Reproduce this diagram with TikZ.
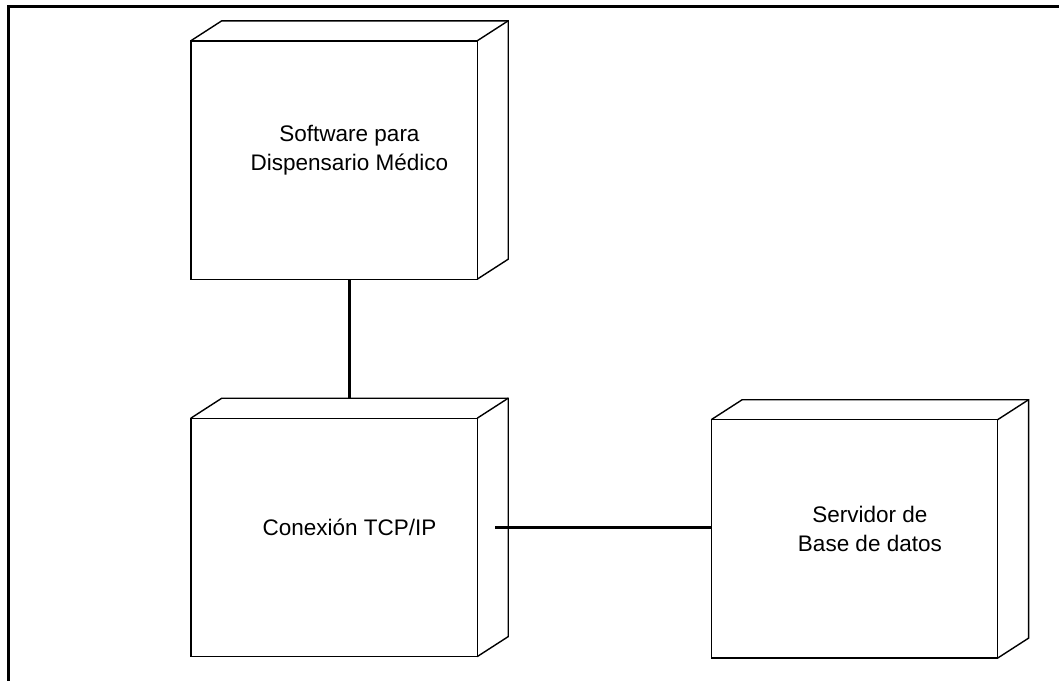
\documentclass[tikz,border=0pt]{standalone}
\usepackage{fontspec}
\setmainfont{Liberation Sans}
\usetikzlibrary{positioning}
\newcommand{\nodebody}[1]{%
\draw[boxline] ([yshift=-20pt]#1.north west) rectangle ([xshift=-31pt]#1.south east);
\draw[boxline] ([yshift=-20pt]#1.north west) -- ([xshift=31pt]#1.north west) -- (#1.north east) -- ([yshift=20pt]#1.south east) -- ([xshift=-31pt]#1.south east);
\draw[boxline] ([xshift=-31pt,yshift=-20pt]#1.north east) -- (#1.north east);
}
\begin{document}
\begin{tikzpicture}[x=1pt, y=-1pt,
  umlnode/.style={minimum width=317pt, minimum height=258pt, inner sep=0pt, align=center, font=\fontsize{22.5}{29}\selectfont},
  boxline/.style={draw=black, line width=1.4pt, line join=miter},
  link/.style={draw=black, line width=2.6pt}]
\useasboundingbox (0,0) rectangle (1059,680);
\clip (0,0) rectangle (1059,680);
\draw[line width=3pt] (8,6) rectangle (1080,700);
% nodos
\node[umlnode] (sw) at (349.5,150) {Software para\\Dispensario Médico};
\node[umlnode, below=119pt of sw] (tcp) {Conexión TCP/IP};
\node[umlnode, right=203pt of tcp, yshift=-1.5pt] (db) {Servidor de\\Base de datos};
\nodebody{sw}
\nodebody{tcp}
\nodebody{db}
% conexiones
\draw[link] (sw.south) -- (tcp.north);
\draw[link] ([xshift=-13pt]tcp.east) -- (tcp.east -| db.west);
\end{tikzpicture}
\end{document}
